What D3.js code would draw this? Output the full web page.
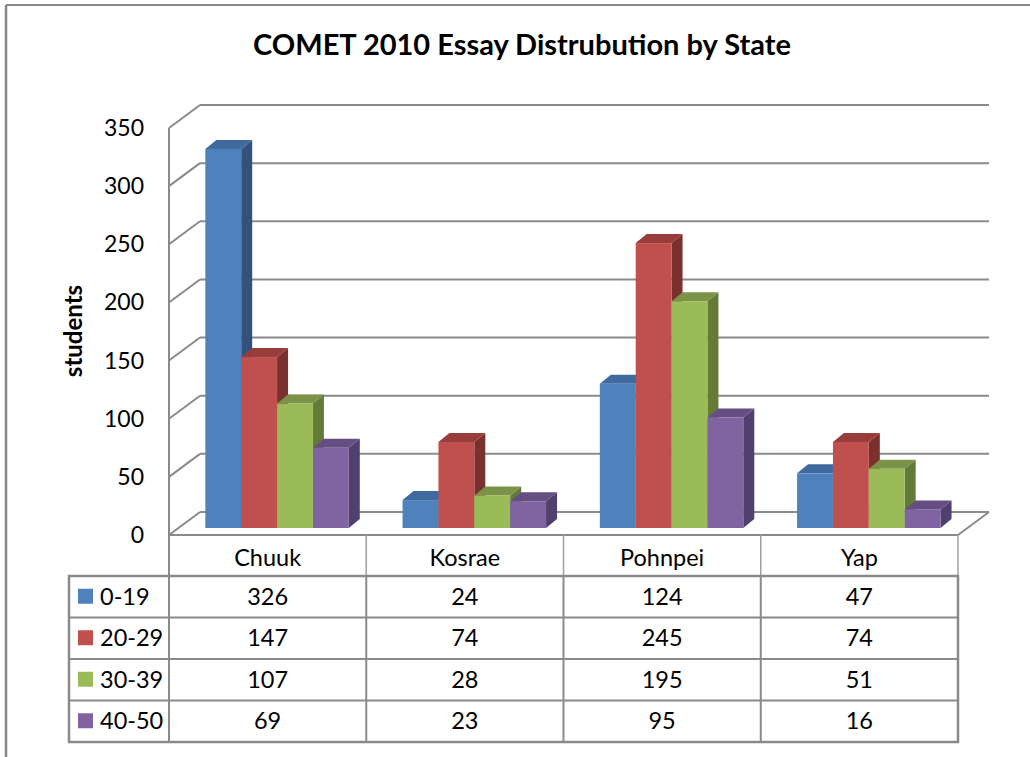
<!DOCTYPE html>
<html><head><meta charset="utf-8">
<script src="https://cdn.jsdelivr.net/npm/d3@7"></script>
<style>
html,body{margin:0;padding:0;background:#fff;}
svg text{font-family:Lato,"Noto Sans",sans-serif;fill:#000;}
</style></head>
<body>
<svg id="c" width="1030" height="757"></svg>
<script>
const categories = ["Chuuk","Kosrae","Pohnpei","Yap"];
const seriesNames = ["0-19","20-29","30-39","40-50"];
const s0_19  = [326, 24, 124, 47];
const s20_29 = [147, 74, 245, 74];
const s30_39 = [107, 28, 195, 51];
const s40_50 = [69, 23, 95, 16];
const seriesValues = [s0_19, s20_29, s30_39, s40_50];
const yTicks = [0,50,100,150,200,250,300,350];
const titleText = "COMET 2010 Essay Distrubution by State";
const yTitle = "students";

const frontC = ["#4F81BD","#C0504D","#9BBB59","#8064A2"];
const topC   = ["#3F6A9F","#983D3B","#7A9346","#654F82"];
const sideC  = ["#32527B","#7A302F","#637A39","#51406E"];

const svg = d3.select("#c");
const gridCol = "#8a8a8a";

// geometry
const fx0 = 169, fx1 = 958, fy0 = 535;      // front floor edge
const ddx = 31, ddy = -23;                    // floor depth
const yH = d3.scaleLinear().domain([0,350]).range([0,407]);
const xBand = d3.scaleBand().domain(categories).range([fx0,fx1]).paddingInner(0).paddingOuter(0);
// gap width 150% -> band = 5.5 bar widths
const bw = xBand.bandwidth()/5.5;
const barX = d3.scaleLinear().domain([0,4]).range([0.75*bw, 4.75*bw]);

// frame
svg.append("line").attr("x1",6).attr("y1",5).attr("x2",1030).attr("y2",5).attr("stroke","#878787").attr("stroke-width",2);
svg.append("line").attr("x1",6).attr("y1",5).attr("x2",6).attr("y2",757).attr("stroke","#878787").attr("stroke-width",2.5);

// title
svg.append("text").attr("x",522).attr("y",55).attr("text-anchor","middle")
  .attr("font-weight","bold").attr("font-size",29).text(titleText);

// gridlines (back wall + left wall)
const g = svg.append("g");
yTicks.forEach(v=>{
  const yb = fy0 + ddy - yH(v);
  g.append("line").attr("x1",fx0+ddx).attr("x2",fx1+ddx).attr("y1",yb).attr("y2",yb).attr("stroke",gridCol).attr("stroke-width",2);
  g.append("line").attr("x1",fx0).attr("y1",yb-ddy).attr("x2",fx0+ddx).attr("y2",yb).attr("stroke",gridCol).attr("stroke-width",2);
});
// front-left vertical axis
g.append("line").attr("x1",fx0).attr("x2",fx0).attr("y1",fy0-yH(350)).attr("y2",fy0+41).attr("stroke",gridCol).attr("stroke-width",2);
// floor right edge
g.append("line").attr("x1",fx1).attr("y1",fy0).attr("x2",fx1+ddx).attr("y2",fy0+ddy).attr("stroke",gridCol).attr("stroke-width",2);

// tick labels
svg.append("g").selectAll("text").data(yTicks).join("text")
  .attr("x",144).attr("y",v=>fy0-yH(v)+8).attr("text-anchor","end")
  .attr("font-size",23).text(v=>v);

// y title
svg.append("text").attr("transform","translate(82,331) rotate(-90)").attr("text-anchor","middle")
  .attr("font-weight","bold").attr("font-size",24).text(yTitle);

// bars
const f = 7/23;
const offX = f*ddx, offY = f*ddy;     // bar front plane
const bdx = 11, bdy = -9;             // bar depth
const bars = svg.append("g");
categories.forEach((cat,ci)=>{
  seriesValues.forEach((vals,si)=>{
    const v = vals[ci];
    const x0 = xBand(cat) + offX + barX(si);
    const x1 = x0 + bw;
    const yb = fy0 + offY;
    const yt = yb - yH(v);
    const gg = bars.append("g");
    gg.append("path").attr("d",`M${x1},${yt}L${x1+bdx},${yt+bdy}L${x1+bdx},${yb+bdy}L${x1},${yb}Z`).attr("fill",sideC[si]);
    gg.append("path").attr("d",`M${x0},${yt}L${x0+bdx},${yt+bdy}L${x1+bdx},${yt+bdy}L${x1},${yt}Z`).attr("fill",topC[si]);
    gg.append("rect").attr("x",x0).attr("y",yt).attr("width",bw).attr("height",yb-yt).attr("fill",frontC[si]);
  });
});

// data table
const tbl = svg.append("g");
const rowH = 41.5;
const hdrTop = fy0, hdrBot = fy0+41;
const labX0 = 69;
const tCol = "#8a8a8a";
// header row
tbl.append("line").attr("x1",fx0).attr("x2",fx1).attr("y1",hdrTop).attr("y2",hdrTop).attr("stroke",tCol).attr("stroke-width",2);
categories.forEach(cat=>{
  tbl.append("line").attr("x1",xBand(cat)+xBand.bandwidth()).attr("x2",xBand(cat)+xBand.bandwidth())
    .attr("y1",hdrTop).attr("y2",hdrBot).attr("stroke","#a0a0a0").attr("stroke-width",1.5);
  tbl.append("text").attr("x",xBand(cat)+xBand.bandwidth()/2).attr("y",hdrTop+31).attr("text-anchor","middle")
    .attr("font-size",23.5).text(cat);
});
// data rows
const rowsTop = hdrBot;
tbl.append("rect").attr("x",labX0).attr("y",rowsTop).attr("width",fx1-labX0).attr("height",rowH*4)
  .attr("fill","none").attr("stroke",tCol).attr("stroke-width",2.5);
for(let r=1;r<4;r++){
  tbl.append("line").attr("x1",labX0).attr("x2",fx1).attr("y1",rowsTop+r*rowH).attr("y2",rowsTop+r*rowH).attr("stroke",tCol).attr("stroke-width",2);
}
[fx0].concat(categories.slice(0,3).map(c=>xBand(c)+xBand.bandwidth())).forEach(x=>{
  tbl.append("line").attr("x1",x).attr("x2",x).attr("y1",rowsTop).attr("y2",rowsTop+rowH*4).attr("stroke",tCol).attr("stroke-width",2);
});
seriesNames.forEach((nm,si)=>{
  const yc = rowsTop + si*rowH + rowH/2;
  tbl.append("rect").attr("x",78).attr("y",yc-8).attr("width",15).attr("height",15).attr("fill",frontC[si]);
  tbl.append("text").attr("x",100).attr("y",yc+8).attr("font-size",23.5).text(nm);
  categories.forEach((cat,ci)=>{
    tbl.append("text").attr("x",xBand(cat)+xBand.bandwidth()/2).attr("y",yc+8).attr("text-anchor","middle")
      .attr("font-size",23.5).text(seriesValues[si][ci]);
  });
});
</script>
</body></html>
